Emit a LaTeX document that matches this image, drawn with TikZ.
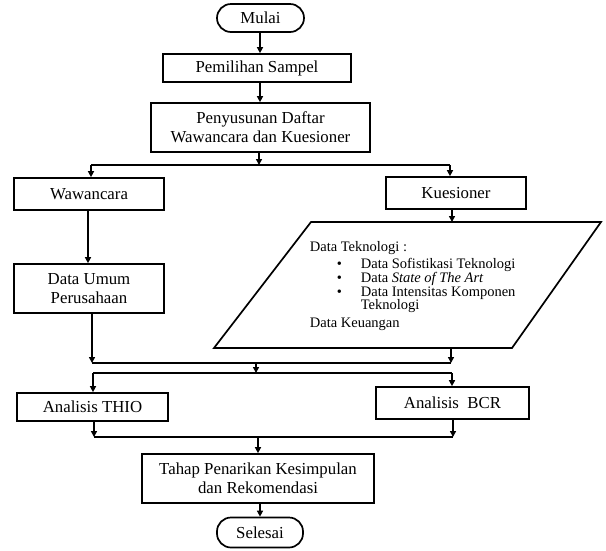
\documentclass[tikz,border=0pt]{standalone}
\usepackage{fontspec}
\setmainfont{Liberation Serif}
\usetikzlibrary{arrows.meta}
\begin{document}
\begin{tikzpicture}[x=1pt,y=-1pt,
  line width=1.7pt,
  box/.style={draw, rectangle, inner sep=0pt, align=center, font=\fontsize{16.8}{19}\selectfont},
  term/.style={draw, rectangle, rounded corners=14pt, inner sep=0pt, font=\fontsize{16.8}{18}\selectfont},
  arr/.style={-{Triangle[length=6pt,width=6pt]}},
  ptxt/.style={anchor=base west, inner sep=0pt, font=\fontsize{14.5}{15}\selectfont},
]
\useasboundingbox (0,0) rectangle (606,550);

% nodes
\node[term, minimum width=87pt, minimum height=28pt] (mulai) at (260.5,18) {Mulai};
\node[box, minimum width=188pt, minimum height=28pt] (pem) at (257,68) {Pemilihan Sampel};
\node[box, minimum width=219pt, minimum height=49pt] (pen) at (260.5,127.5) {Penyusunan Daftar\\Wawancara dan Kuesioner};
\node[box, minimum width=150pt, minimum height=32pt] (waw) at (89,194) {Wawancara};
\node[box, minimum width=140pt, minimum height=32pt] (kue) at (456,193) {Kuesioner};
\node[box, minimum width=150pt, minimum height=49pt] (dum) at (89,288.5) {Data Umum\\Perusahaan};

% parallelogram
\coordinate (ptl) at (311,222);
\coordinate (ptr) at (601,222);
\coordinate (pbr) at (512,348);
\coordinate (pbl) at (214,348);
\draw (ptl) -- (ptr) -- (pbr) -- (pbl) -- cycle;
\node[ptxt] (t0) at (309,251.5) {Data Teknologi :};
\node[ptxt] (b1) at (336,268) {\textbullet};
\node[ptxt] (t1) at (360,268) {Data Sofistikasi Teknologi};
\node[ptxt] (b2) at (336,282) {\textbullet};
\node[ptxt] (t2) at (360,282) {Data \textit{State of The Art}};
\node[ptxt] (b3) at (336,296) {\textbullet};
\node[ptxt] (t3) at (360,296) {Data Intensitas Komponen};
\node[ptxt] (t4) at (360,309) {Teknologi};
\node[ptxt] (t5) at (309,327) {Data Keuangan};

\node[box, minimum width=151pt, minimum height=28pt] (thio) at (92.5,407) {Analisis THIO};
\node[box, minimum width=153pt, minimum height=32pt] (bcr) at (452.5,403) {Analisis\ \ BCR};
\node[box, minimum width=232pt, minimum height=49pt] (tahap) at (258,478.5) {Tahap Penarikan Kesimpulan\\dan Rekomendasi};
\node[term, minimum width=86pt, minimum height=30pt] (sel) at (260,532.5) {Selesai};

% junction coordinates
\coordinate (s1) at (259,165);
\coordinate (s1l) at (91,165);
\coordinate (s1r) at (450,165);
\coordinate (m1l) at (92,363);
\coordinate (m1r) at (451,363);
\coordinate (m1c) at (256,363);
\coordinate (s2c) at (256,373);
\coordinate (s2l) at (93,373);
\coordinate (s2r) at (452,373);
\coordinate (m2l) at (94,437);
\coordinate (m2r) at (453,437);
\coordinate (m2c) at (258,437);

% connectors
\draw[arr] (mulai.south -| 260,0) -- (pem.north -| 260,0);
\draw[arr] (pem.south -| 260,0) -- (pen.north -| 260,0);
\draw[arr] (pen.south -| s1) -- (s1);
\draw (s1l) -- (s1r);
\draw[arr] (s1l) -- (waw.north -| s1l);
\draw[arr] (s1r) -- (kue.north -| s1r);
\draw[arr] (waw.south -| 88,0) -- (dum.north -| 88,0);
\draw[arr] (kue.south -| 452,0) -- (ptl -| 452,0);

\draw[arr] (dum.south -| m1l) -- (m1l);
\draw[arr] (pbl -| m1r) -- (m1r);
\draw (m1l) -- (m1r);
\draw[arr] (m1c) -- (s2c);
\draw (s2l) -- (s2r);
\draw[arr] (s2l) -- (thio.north -| s2l);
\draw[arr] (s2r) -- (bcr.north -| s2r);

\draw[arr] (thio.south -| m2l) -- (m2l);
\draw[arr] (bcr.south -| m2r) -- (m2r);
\draw (m2l) -- (m2r);
\draw[arr] (m2c) -- (tahap.north -| m2c);
\draw[arr] (tahap.south -| 260,0) -- (sel.north -| 260,0);
\end{tikzpicture}
\end{document}
